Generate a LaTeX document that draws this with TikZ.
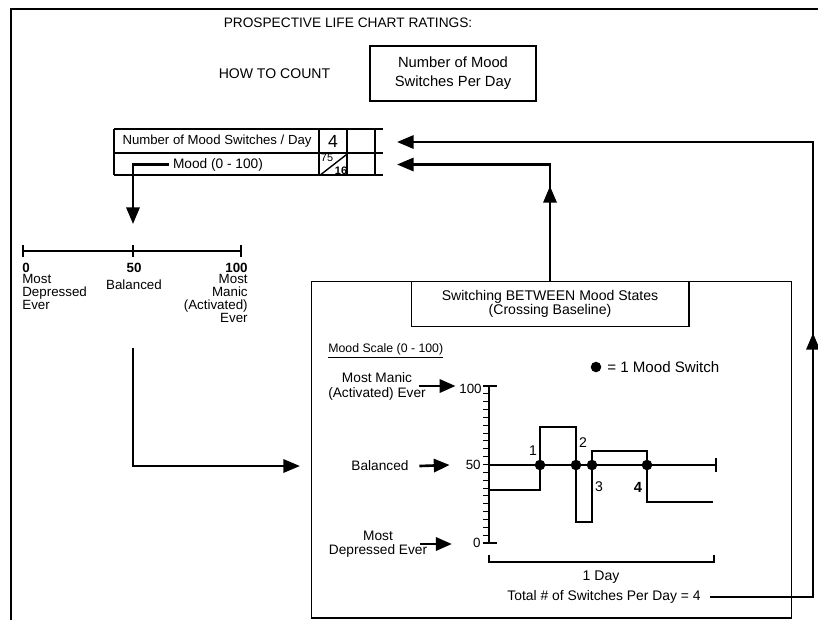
\documentclass[tikz,border=0pt]{standalone}
\usepackage{fontspec}
\setmainfont{Liberation Sans}
\usetikzlibrary{arrows.meta, positioning, calc}

\begin{document}
\begin{tikzpicture}[
    x=0.02cm, y=-0.02cm,
    txt/.style={font=\fontsize{7.6}{8.5}\selectfont, inner sep=0pt, align=center},
    numtxt/.style={txt, font=\fontsize{7.6}{8.5}\selectfont\bfseries},
    framed/.style={draw, line width=0.6pt, txt, inner sep=0pt},
    thinline/.style={line width=0.6pt},
    axisline/.style={line width=0.9pt},
    heavy/.style={line width=1.6pt},
    bigarrow/.style={heavy, -{Triangle[length=9.5pt, width=7.5pt]}},
    midarrow/.style={line width=1.5pt, -{Triangle[length=9pt, width=7.5pt]}},
    switchdot/.style={circle, fill, inner sep=0pt, minimum size=6pt},
]
\useasboundingbox (0,0) rectangle (818,620);

% outer frame
\draw[heavy] (11,620) -- (11,9) -- (818,9);

\node[txt, font=\fontsize{7.8}{9}\selectfont] (charttitle) at (348,23) {PROSPECTIVE LIFE CHART RATINGS:};
\node[framed, font=\fontsize{8.4}{11}\selectfont, minimum width=3.32cm, minimum height=1.1cm] (countbox) at (453,73.5) {Number of Mood\\Switches Per Day};
\node[txt, font=\fontsize{8}{9}\selectfont, left=0.78cm of countbox] (howto) {HOW TO COUNT};

% rating table
\draw[thinline] (114,129) -- (383,129) (114,153) -- (383,153) (114,175) -- (383,175)
    (114,129) -- (114,175) (319,129) -- (319,175) (347,129) -- (347,175) (375,129) -- (375,175);
\node[txt, font=\fontsize{7.5}{8.5}\selectfont] (rowswitch) at (217,141) {Number of Mood Switches / Day};
\node[txt, font=\fontsize{10}{11}\selectfont] (rowcount) at (333,141) {4};
\node[txt, font=\fontsize{7.8}{8.5}\selectfont] (rowmood) at (218,164.5) {Mood (0 - 100)};
\node[txt, font=\fontsize{6.2}{6.5}\selectfont] (moodhi) at (327,158) {75};
\node[txt, font=\fontsize{6.2}{6.5}\selectfont\bfseries] (moodlo) at (341,170.5) {16};
\draw[line width=0.8pt] (moodhi.south west |- moodlo.south) -- (moodlo.north east |- moodhi.north);
\coordinate (countin) at (397,142);
\coordinate (moodin) at (397,164.5);

% 0-100 scale
\coordinate (scalein) at (133,224);
\draw[bigarrow] ([xshift=-2pt]rowmood.west) -| (scalein);
\draw[axisline] (23,251) -- (241,251) (23,245) -- (23,257) (133,245) -- (133,257) (241,245) -- (241,257);
\node[numtxt, anchor=west] (lowend) at (22,268) {0};
\node[numtxt] (midpt) at (134,268) {50};
\node[numtxt, anchor=east] (highend) at (248,268) {100};
\node[txt, font=\fontsize{7.6}{7.4}\selectfont, align=left, anchor=north west] (lowlbl) at (22,274) {Most\\Depressed\\Ever};
\node[txt, anchor=north] (midlbl) at (134,279) {Balanced};
\node[txt, font=\fontsize{7.6}{7.4}\selectfont, align=right, anchor=north east] (highlbl) at (248,274) {Most\\Manic\\(Activated)\\Ever};

\coordinate (scaleout) at (133,348);
\coordinate (panelin) at (300,466);
\draw[bigarrow] (scaleout) |- (panelin);

% switching panel
\node[draw, thinline, minimum width=9.62cm, minimum height=6.74cm, inner sep=0pt] (panel) at (551.5,449.5) {};
\node[framed, font=\fontsize{8}{8}\selectfont, minimum width=5.56cm, minimum height=0.9cm, anchor=north] (switchbox) at (550,281) {Switching BETWEEN Mood States\\(Crossing Baseline)};
\draw[bigarrow] (switchbox.north) |- (moodin);
\draw[bigarrow] (switchbox.north) -- ++(0,-95);

\node[txt, font=\fontsize{7}{8}\selectfont, anchor=west] (scalehead) at (328,351) {\underline{Mood Scale (0 - 100)}};
\node[switchdot] (legenddot) at (596,367) {};
\node[txt, font=\fontsize{8.6}{9}\selectfont, right=3pt of legenddot] (legendtxt) {= 1 Mood Switch};

\draw[axisline] (489,386) -- (489,543) (483,386) -- (497,386) (483,543) -- (497,543);
\foreach \k in {1,...,19}
    \draw[thinline] (483,{386+\k*7.85}) -- (489,{386+\k*7.85});
\draw[line width=1.2pt] (489,465) -- (716,465) (716,458) -- (716,472);

\node[txt, anchor=east] (val100) at (482,389) {100};
\node[txt, anchor=east] (val50) at (481,465) {50};
\node[txt, anchor=east] (val0) at (481,543) {0};
\node[txt, font=\fontsize{7.8}{8.5}\selectfont] (maniclbl) at (377,386) {Most Manic\\(Activated) Ever};
\node[txt, font=\fontsize{7.8}{8.5}\selectfont] (ballbl) at (380,466) {Balanced};
\node[txt, font=\fontsize{7.8}{8}\selectfont] (deplbl) at (378,544) {Most\\Depressed Ever};
\draw[midarrow, shorten >=2pt] ([xshift=-4pt]maniclbl.east) -- (maniclbl.east -| val100.west);
\draw[midarrow] ([xshift=6pt]ballbl.east) -- ([xshift=-9pt]val50.west);
\draw[midarrow] ([xshift=-4pt]deplbl.east) -- ([xshift=-12pt]val0.west |- deplbl.east);

\draw[thinline] (489,490) -- (540,490) -- (540,427) -- (576,427) -- (576,522) -- (592,522)
    -- (592,451) -- (647,451) -- (647,502) -- (713,502);
\node[switchdot] (sw1) at (540,465) {};
\node[switchdot] (sw2) at (576,465) {};
\node[switchdot] (sw3) at (592,465) {};
\node[switchdot] (sw4) at (647,465) {};
\node[txt, font=\fontsize{8}{8.5}\selectfont] (tag1) at (533,451) {1};
\node[txt, font=\fontsize{8}{8.5}\selectfont] (tag2) at (583,443) {2};
\node[txt, font=\fontsize{8}{8.5}\selectfont] (tag3) at (599,487) {3};
\node[txt, font=\fontsize{8.4}{8.5}\selectfont\bfseries] (tag4) at (638,487) {4};

\draw[axisline] (489,555) -- (489,562) -- (714,562) -- (714,555);
\node[txt, font=\fontsize{8}{8.5}\selectfont] (daylbl) at (601,577) {1 Day};
\node[txt, font=\fontsize{7.9}{8.5}\selectfont] (totallbl) at (604,597) {Total \# of Switches Per Day = 4};

\coordinate (rightmid) at (813,333);
\coordinate (rightcol) at (813,142);
\draw[bigarrow] ([xshift=5pt]totallbl.east) -| (rightcol) -- (countin);
\draw[bigarrow] ([xshift=5pt]totallbl.east) -| (rightmid);

\end{tikzpicture}
\end{document}
